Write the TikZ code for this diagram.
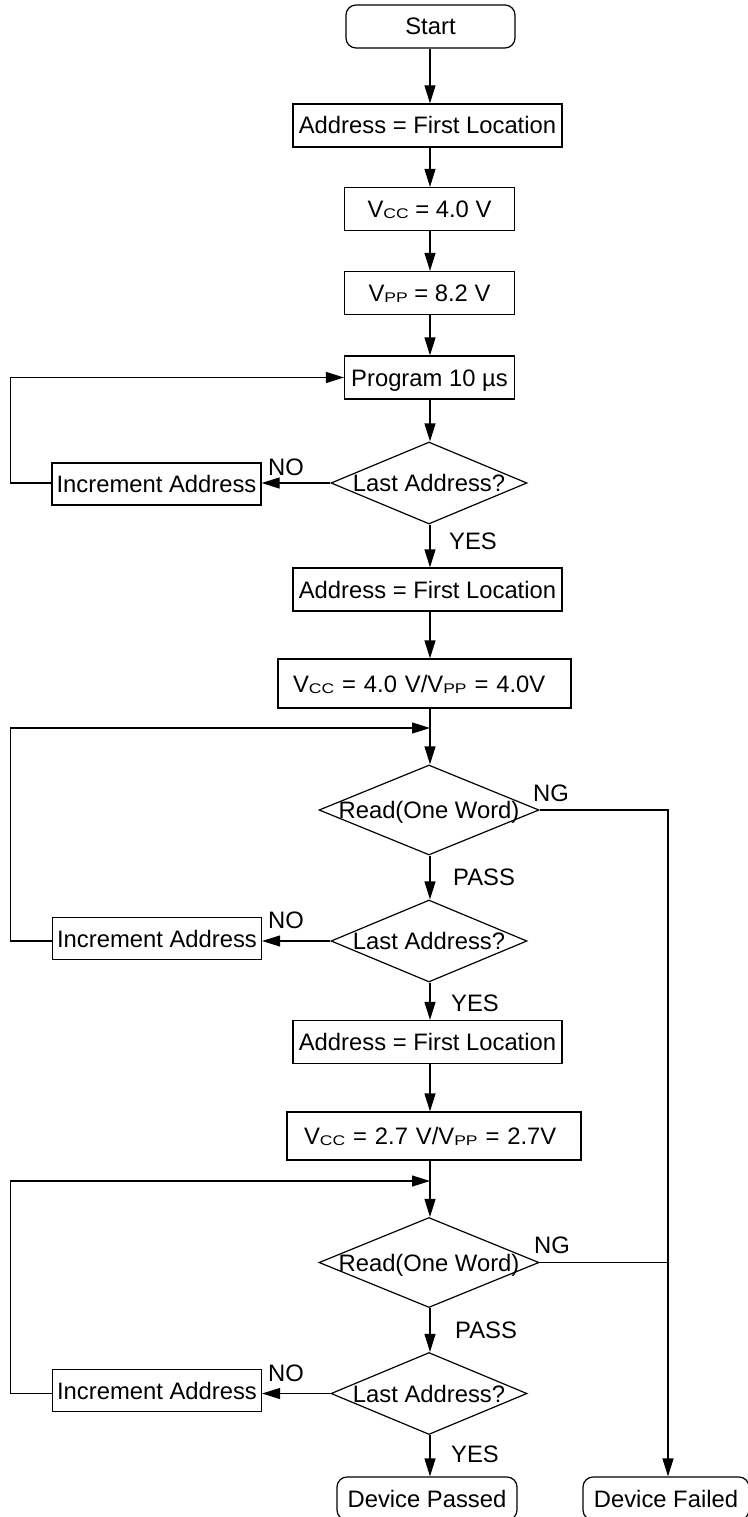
\documentclass[tikz,border=0pt]{standalone}
\usepackage{fontspec}
\usepackage{graphicx}
\setmainfont{Liberation Sans}
\usetikzlibrary{arrows.meta,shapes.geometric}
\newcommand\subtxt[1]{\raisebox{-1pt}{\scalebox{1.25}[1]{\fontsize{14}{14}\selectfont #1}}}
\begin{document}
\begin{tikzpicture}[x=1pt,y=-1pt,
  every node/.style={font=\fontsize{23.8}{26}\selectfont, text height=17pt, text depth=0pt},
  pbox/.style={draw, line width=1.2pt, inner sep=0pt, minimum height=43pt},
  rbox/.style={pbox, rounded corners=10pt},
  vbox/.style={draw, line width=1.2pt, inner ysep=0pt, align=left},
  dec/.style={draw, diamond, line width=1.2pt, inner sep=0pt, minimum width=196pt, minimum height=82pt},
  rdec/.style={dec, minimum width=220pt, minimum height=90pt},
  lab/.style={inner sep=0pt},
  ln/.style={line width=1.2pt},
  arr/.style={ln, -{Triangle[length=18pt,width=11pt]}}
]
\useasboundingbox (0,0) rectangle (747,1517);

\node[rbox, minimum width=169pt] (start) at (430.5,26.5) {Start};
\node[pbox, minimum width=269pt] (addr1) at (427.5,125.5) {Address = First Location};
\node[pbox, minimum width=170pt] (vcc1) at (429.5,209) {V\subtxt{CC} = 4.0 V};
\node[pbox, minimum width=170pt] (vpp1) at (429.5,293) {V\subtxt{PP} = 8.2 V};
\node[pbox, minimum width=170pt] (prog) at (429.5,377.5) {Program 10 µs};
\node[dec] (last1) at (429,483) {\makebox[0pt]{Last Address?}};
\node[pbox, minimum width=209pt, minimum height=42pt] (inc1) at (156.5,484) {Increment Address};
\node[pbox, minimum width=269pt] (addr2) at (427.5,589.5) {Address = First Location};
\node[vbox, text width=263pt, inner xsep=15pt, minimum height=49pt] (vcc2) at (424.5,683.5) {V\subtxt{CC} = 4.0 V/V\subtxt{PP} = 4.0V};
\coordinate (j1) at (430,728);
\node[rdec] (read1) at (429,810) {\makebox[0pt]{Read(One Word)}};
\node[dec] (last2) at (429,941) {\makebox[0pt]{Last Address?}};
\node[pbox, minimum width=209pt, minimum height=42pt] (inc2) at (157,938.5) {Increment Address};
\node[pbox, minimum width=269pt] (addr3) at (427.5,1042) {Address = First Location};
\node[vbox, text width=260pt, inner xsep=17pt, minimum height=48pt] (vcc3) at (434,1136) {V\subtxt{CC} = 2.7 V/V\subtxt{PP} = 2.7V};
\coordinate (j2) at (430,1181);
\node[rdec] (read2) at (429,1262.5) {\makebox[0pt]{Read(One Word)}};
\node[dec] (last3) at (429,1393.5) {\makebox[0pt]{Last Address?}};
\node[pbox, minimum width=209pt, minimum height=42pt] (inc3) at (157,1390.5) {Increment Address};
\node[rbox, minimum width=180pt] (passed) at (427,1498.5) {Device Passed};
\node[rbox, minimum width=166pt] (failed) at (666,1498.5) {Device Failed};

\coordinate (ng) at (668,810);
\coordinate (lx1) at (10.7,377.5);
\coordinate (lx2) at (10.7,728);
\coordinate (lx3) at (10.7,1181);

% labels
\node[lab] (no1) at (286,467) {NO};
\node[lab] (yes1) at (473,541) {YES};
\node[lab] (ng1) at (551,793) {NG};
\node[lab] (pass1) at (484,877) {PASS};
\node[lab] (no2) at (286,920) {NO};
\node[lab] (yes2) at (475,1003) {YES};
\node[lab] (ng2) at (552,1245) {NG};
\node[lab] (pass2) at (486,1330) {PASS};
\node[lab] (no3) at (286,1373) {NO};
\node[lab] (yes3) at (475,1454) {YES};

% main column
\draw[arr] (start.south -| j1) -- (addr1.north -| j1);
\draw[arr] (addr1.south -| j1) -- (vcc1.north -| j1);
\draw[arr] (vcc1.south -| j1) -- (vpp1.north -| j1);
\draw[arr] (vpp1.south -| j1) -- (prog.north -| j1);
\draw[arr] (prog.south -| j1) -- (last1.north -| j1);
\draw[arr] (last1.south -| j1) -- (addr2.north -| j1);
\draw[arr] (addr2.south -| j1) -- (vcc2.north -| j1);
\draw[ln] (vcc2.south -| j1) -- (j1);
\draw[arr] (j1) -- (read1.north -| j1);
\draw[arr] (read1.south -| j1) -- (last2.north -| j1);
\draw[arr] (last2.south -| j1) -- (addr3.north -| j1);
\draw[arr] (addr3.south -| j1) -- (vcc3.north -| j1);
\draw[ln] (vcc3.south -| j1) -- (j2);
\draw[arr] (j2) -- (read2.north -| j1);
\draw[arr] (read2.south -| j1) -- (last3.north -| j1);
\draw[arr] (last3.south -| j1) -- (passed.north -| j1);

% NO branches and loops
\draw[arr] (last1.west) -- (last1.west -| inc1.east);
\draw[arr] (inc1.west |- last1.west) -- (last1.west -| lx1) -- (lx1) -- (prog.west);
\draw[arr] (last2.west) -- (last2.west -| inc2.east);
\draw[arr] (inc2.west |- last2.west) -- (last2.west -| lx2) -- (lx2) -- (j1);
\draw[arr] (last3.west) -- (last3.west -| inc3.east);
\draw[arr] (inc3.west |- last3.west) -- (last3.west -| lx3) -- (lx3) -- (j2);

% NG branches
\draw[arr] (read1.east) -- (ng) -- (failed.north -| ng);
\draw[ln] (read2.east) -- (read2.east -| ng);
\end{tikzpicture}
\end{document}
